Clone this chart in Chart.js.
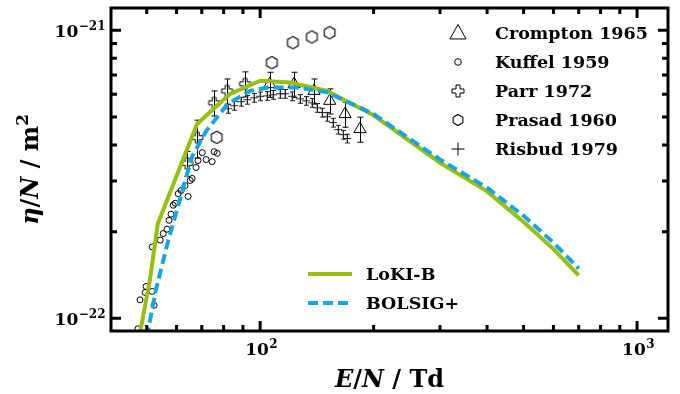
<!DOCTYPE html>
<html>
<head>
<meta charset="utf-8">
<script src="https://cdn.jsdelivr.net/npm/chart.js@4.4.1/dist/chart.umd.min.js"></script>
<style>
  html, body { margin: 0; padding: 0; background: #fff; }
  #wrap { width: 680px; height: 394px; }
</style>
</head>
<body>
<div id="wrap"><canvas id="etaChart" width="680" height="394"></canvas></div>
<script>
// E/N in Td, eta/N in m^2
const lokiE   = [47, 51, 53.5, 68, 83, 100, 120, 150, 200, 300, 400, 500, 600, 700];
const lokiEta = [7.7e-23, 1.36e-22, 2.13e-22, 4.73e-22, 6.0e-22, 6.68e-22, 6.59e-22, 6.17e-22, 5.07e-22, 3.47e-22, 2.76e-22, 2.16e-22, 1.74e-22, 1.41e-22];

const bolsigE   = [50, 53, 57, 60, 66, 72, 82, 94, 105, 125, 150, 200, 300, 400, 500, 600, 700];
const bolsigEta = [8.6e-23, 1.27e-22, 1.86e-22, 2.35e-22, 3.65e-22, 4.48e-22, 5.55e-22, 6.16e-22, 6.33e-22, 6.33e-22, 6.1e-22, 5.12e-22, 3.56e-22, 2.84e-22, 2.27e-22, 1.83e-22, 1.49e-22];

const cromptonE   = [106, 123, 139, 153, 168, 184];
const cromptonEta = [6.5e-22, 6.5e-22, 6.16e-22, 5.69e-22, 5.12e-22, 4.54e-22];
const cromptonErr = [0.1, 0.1, 0.1, 0.1, 0.1, 0.1];

const kuffelE   = [47.4, 48.0, 49.5, 49.8, 51.7, 52.3, 51.7, 54.3, 55.3, 56.6, 57.3, 58.0, 58.8, 59.5, 60.6, 61.7, 63.2, 65.2, 64.4, 66.0, 67.6, 68.4, 70.2, 71.9, 74.6, 75.5, 76.9];
const kuffelEta = [9.2e-23, 1.16e-22, 1.23e-22, 1.29e-22, 1.24e-22, 1.11e-22, 1.77e-22, 1.87e-22, 1.97e-22, 2.04e-22, 2.19e-22, 2.30e-22, 2.47e-22, 2.51e-22, 2.71e-22, 2.78e-22, 2.89e-22, 3.01e-22, 2.65e-22, 3.06e-22, 3.34e-22, 3.53e-22, 3.76e-22, 3.56e-22, 3.50e-22, 3.79e-22, 3.74e-22];

const parrE   = [64.0, 68.1, 75.5, 81.7, 91.2];
const parrEta = [3.45e-22, 4.24e-22, 5.60e-22, 6.16e-22, 6.52e-22];
const parrErr = [0.1, 0.15, 0.1, 0.1, 0.1];

const prasadE   = [76.7, 107.4, 122.1, 137.1, 152.8];
const prasadEta = [4.25e-22, 7.72e-22, 9.06e-22, 9.48e-22, 9.81e-22];

const risbudE   = [82.2, 85.3, 89.0, 92.4, 96.4, 100, 104.4, 108.3, 113.0, 116.5, 121.6, 127.7, 132.5, 137.4, 141.7, 146.1, 150.6, 156.2, 161.1, 166.1, 170.2];
const risbudEta = [5.34e-22, 5.47e-22, 5.65e-22, 5.74e-22, 5.83e-22, 5.90e-22, 5.92e-22, 5.97e-22, 6.02e-22, 6.02e-22, 5.90e-22, 5.78e-22, 5.69e-22, 5.60e-22, 5.38e-22, 5.18e-22, 5.01e-22, 4.78e-22, 4.52e-22, 4.34e-22, 4.21e-22];
const risbudErr = 0.035;

// axis ranges and ticks
const X_MIN = 40.2, X_MAX = 1208;
const Y_MIN = 9.04e-23, Y_MAX = 1.195e-21;
const xMajorTicks = [100, 1000];
const xTickExp = ['2', '3'];
const xMinorTicks = [50, 60, 70, 80, 90, 200, 300, 400, 500, 600, 700, 800, 900];
const yMajorTicks = [1e-22, 1e-21];
const yTickExp = ['\u221222', '\u221221'];
const yMinorTicks = [2e-22, 3e-22, 4e-22, 5e-22, 6e-22, 7e-22, 8e-22, 9e-22];

const GREEN = '#97bf0d';
const BLUE = '#16a4e2';
const SERIF = '"DejaVu Serif", "Liberation Serif", serif';

const toXY = (xs, ys) => xs.map((x, i) => ({ x, y: ys[i] }));

// custom marker images
function makeHexagon(r) {
    const c = document.createElement('canvas');
    const s = Math.ceil(2 * r + 4);
    c.width = s; c.height = s;
    const g = c.getContext('2d');
    g.strokeStyle = '#000';
    g.lineWidth = 1.1;
    g.beginPath();
    for (let k = 0; k < 6; k++) {
        const a = -Math.PI / 2 + k * Math.PI / 3;
        const px = s / 2 + r * Math.cos(a), py = s / 2 + r * Math.sin(a);
        if (k === 0) g.moveTo(px, py); else g.lineTo(px, py);
    }
    g.closePath();
    g.stroke();
    return c;
}

function makeHollowPlus(h, w) {
    const c = document.createElement('canvas');
    const s = Math.ceil(2 * h + 4);
    c.width = s; c.height = s;
    const g = c.getContext('2d');
    const m = s / 2;
    const pts = [[-w, -h], [w, -h], [w, -w], [h, -w], [h, w], [w, w], [w, h], [-w, h], [-w, w], [-h, w], [-h, -w], [-w, -w]];
    g.strokeStyle = '#000';
    g.lineWidth = 1;
    g.beginPath();
    pts.forEach(([px, py], i) => i ? g.lineTo(m + px, m + py) : g.moveTo(m + px, m + py));
    g.closePath();
    g.stroke();
    return c;
}

const hexPlot = makeHexagon(6.2);
const plusPlot = makeHollowPlus(5.5, 1.9);
const hexLegend = makeHexagon(5.6);
const plusLegend = makeHollowPlus(6, 2);

// error bars, drawn under the lines
const errorBars = {
    id: 'errorBars',
    beforeDatasetsDraw(chart) {
        const { ctx, scales: { x, y } } = chart;
        ctx.save();
        ctx.beginPath();
        ctx.rect(chart.chartArea.left, chart.chartArea.top, chart.chartArea.width, chart.chartArea.height);
        ctx.clip();
        chart.data.datasets.forEach(ds => {
            if (!ds.errRel) return;
            ctx.strokeStyle = ds.borderColor;
            ctx.lineWidth = 1;
            ds.data.forEach((p, i) => {
                const e = Array.isArray(ds.errRel) ? ds.errRel[i] : ds.errRel;
                const px = Math.round(x.getPixelForValue(p.x)) + 0.5;
                const yTop = y.getPixelForValue(p.y * (1 + e));
                const yBot = y.getPixelForValue(p.y * (1 - e));
                const cap = ds.capHalf || 2.5;
                ctx.beginPath();
                ctx.moveTo(px, yTop); ctx.lineTo(px, yBot);
                ctx.moveTo(px - cap, yTop); ctx.lineTo(px + cap, yTop);
                ctx.moveTo(px - cap, yBot); ctx.lineTo(px + cap, yBot);
                ctx.stroke();
            });
        });
        ctx.restore();
    }
};

function drawRich(ctx, parts, cx, baseline, size) {
    const fontOf = p => (p.it ? 'italic bold ' : 'bold ') + (p.sup ? size * 0.7 : size) + 'px ' + SERIF;
    let total = 0;
    parts.forEach(p => { ctx.font = fontOf(p); total += ctx.measureText(p.t).width; });
    let xx = cx - total / 2;
    ctx.textAlign = 'left';
    ctx.textBaseline = 'alphabetic';
    parts.forEach(p => {
        ctx.font = fontOf(p);
        ctx.fillText(p.t, xx, baseline - (p.sup ? size * 0.42 : 0));
        xx += ctx.measureText(p.t).width;
    });
}

function drawPow(ctx, exp, x, baseline, align) {
    ctx.textBaseline = 'alphabetic';
    ctx.textAlign = 'left';
    ctx.font = 'bold 17px ' + SERIF;
    const wb = ctx.measureText('10').width;
    ctx.font = 'bold 12px ' + SERIF;
    const we = ctx.measureText(exp).width;
    const start = align === 'right' ? x - wb - we : x - (wb + we) / 2;
    ctx.font = 'bold 17px ' + SERIF;
    ctx.fillText('10', start, baseline);
    ctx.font = 'bold 12px ' + SERIF;
    ctx.fillText(exp, start + wb + 0.5, baseline - 7.5);
}

function legendMarker(ctx, kind, x, y) {
    ctx.save();
    ctx.strokeStyle = '#000';
    ctx.lineWidth = 1;
    if (kind === 'triangle') {
        const r = 8.5;
        ctx.beginPath();
        ctx.moveTo(x, y - r);
        ctx.lineTo(x + r * 0.95, y + r * 0.7);
        ctx.lineTo(x - r * 0.95, y + r * 0.7);
        ctx.closePath();
        ctx.stroke();
    } else if (kind === 'circle') {
        ctx.beginPath();
        ctx.arc(x, y, 3.3, 0, Math.PI * 2);
        ctx.stroke();
    } else if (kind === 'cross') {
        ctx.beginPath();
        ctx.moveTo(x - 6.5, y); ctx.lineTo(x + 6.5, y);
        ctx.moveTo(x, y - 6.5); ctx.lineTo(x, y + 6.5);
        ctx.stroke();
    } else {
        ctx.drawImage(kind, x - kind.width / 2, y - kind.height / 2);
    }
    ctx.restore();
}

// frame, inward ticks, tick labels, axis titles and the two legends
const frame = {
    id: 'frame',
    afterDraw(chart) {
        const { ctx, chartArea: a, scales: { x, y } } = chart;
        ctx.save();
        ctx.fillStyle = '#000';
        ctx.strokeStyle = '#000';
        ctx.lineCap = 'butt';

        const tickX = (v, len) => {
            const px = x.getPixelForValue(v);
            ctx.beginPath();
            ctx.moveTo(px, a.bottom); ctx.lineTo(px, a.bottom - len);
            ctx.moveTo(px, a.top); ctx.lineTo(px, a.top + len);
            ctx.stroke();
        };
        const tickY = (v, len) => {
            const py = y.getPixelForValue(v);
            ctx.beginPath();
            ctx.moveTo(a.left, py); ctx.lineTo(a.left + len, py);
            ctx.moveTo(a.right, py); ctx.lineTo(a.right - len, py);
            ctx.stroke();
        };
        ctx.lineWidth = 3;
        xMinorTicks.forEach(v => tickX(v, 6));
        yMinorTicks.forEach(v => tickY(v, 6));
        xMajorTicks.forEach(v => tickX(v, 10));
        yMajorTicks.forEach(v => tickY(v, 10));

        ctx.lineWidth = 3;
        ctx.strokeRect(a.left, a.top, a.right - a.left, a.bottom - a.top);

        xMajorTicks.forEach((v, i) => drawPow(ctx, xTickExp[i], x.getPixelForValue(v) + 1, a.bottom + 24, 'center'));
        yMajorTicks.forEach((v, i) => drawPow(ctx, yTickExp[i], a.left - 6, y.getPixelForValue(v) + 7, 'right'));

        drawRich(ctx, [{ t: 'E', it: true }, { t: '/' }, { t: 'N', it: true }, { t: ' / Td' }], (a.left + a.right) / 2, 387, 24);
        ctx.save();
        ctx.translate(38, (a.top + a.bottom) / 2);
        ctx.rotate(-Math.PI / 2);
        drawRich(ctx, [{ t: '\u03b7', it: true }, { t: '/' }, { t: 'N', it: true }, { t: ' / m' }, { t: '2', sup: true }], 0, 0, 24);
        ctx.restore();

        // marker legend (top right)
        const entries = [
            ['triangle', 'Crompton 1965'],
            ['circle', 'Kuffel 1959'],
            [plusLegend, 'Parr 1972'],
            [hexLegend, 'Prasad 1960'],
            ['cross', 'Risbud 1979']
        ];
        ctx.font = 'bold 17.5px ' + SERIF;
        ctx.textAlign = 'left';
        ctx.textBaseline = 'middle';
        entries.forEach(([kind, label], i) => {
            const yy = 33 + i * 29;
            legendMarker(ctx, kind, 458, yy);
            ctx.fillStyle = '#000';
            ctx.fillText(label, 495, yy + 1);
        });

        // model legend (bottom)
        ctx.lineWidth = 4;
        ctx.strokeStyle = GREEN;
        ctx.beginPath(); ctx.moveTo(308, 274); ctx.lineTo(352, 274); ctx.stroke();
        ctx.strokeStyle = BLUE;
        ctx.setLineDash([10, 5]);
        ctx.beginPath(); ctx.moveTo(308, 303); ctx.lineTo(352, 303); ctx.stroke();
        ctx.setLineDash([]);
        ctx.fillStyle = '#000';
        ctx.fillText('LoKI-B', 366, 275);
        ctx.fillText('BOLSIG+', 366, 304);
        ctx.restore();
    }
};

new Chart(document.getElementById('etaChart'), {
    type: 'scatter',
    data: {
        datasets: [
            {
                label: 'BOLSIG+', data: toXY(bolsigE, bolsigEta), showLine: true,
                borderColor: BLUE, borderWidth: 4, borderDash: [10, 5], pointRadius: 0, order: 0
            },
            {
                label: 'LoKI-B', data: toXY(lokiE, lokiEta), showLine: true,
                borderColor: GREEN, borderWidth: 4, pointRadius: 0, order: 1
            },
            {
                label: 'Crompton 1965', data: toXY(cromptonE, cromptonEta), errRel: cromptonErr, capHalf: 3,
                pointStyle: 'triangle', pointRadius: 7, borderColor: '#000', borderWidth: 1,
                backgroundColor: 'rgba(0,0,0,0)', order: 2
            },
            {
                label: 'Kuffel 1959', data: toXY(kuffelE, kuffelEta),
                pointStyle: 'circle', pointRadius: 3, borderColor: '#000', borderWidth: 1,
                backgroundColor: 'rgba(0,0,0,0)', order: 3
            },
            {
                label: 'Parr 1972', data: toXY(parrE, parrEta), errRel: parrErr, capHalf: 3,
                pointStyle: plusPlot, borderColor: '#000', order: 4
            },
            {
                label: 'Prasad 1960', data: toXY(prasadE, prasadEta),
                pointStyle: hexPlot, borderColor: '#000', order: 5
            },
            {
                label: 'Risbud 1979', data: toXY(risbudE, risbudEta), errRel: risbudErr, capHalf: 2.5,
                pointStyle: 'cross', pointRadius: 4, borderColor: '#222', borderWidth: 1, order: 6
            }
        ]
    },
    options: {
        responsive: false,
        animation: false,
        devicePixelRatio: 1,
        layout: { padding: { left: 111, top: 7, right: 12, bottom: 63 } },
        scales: {
            x: { type: 'logarithmic', min: X_MIN, max: X_MAX, display: false },
            y: { type: 'logarithmic', min: Y_MIN, max: Y_MAX, display: false }
        },
        plugins: { legend: { display: false }, tooltip: { enabled: false } }
    },
    plugins: [errorBars, frame]
});
</script>
</body>
</html>
